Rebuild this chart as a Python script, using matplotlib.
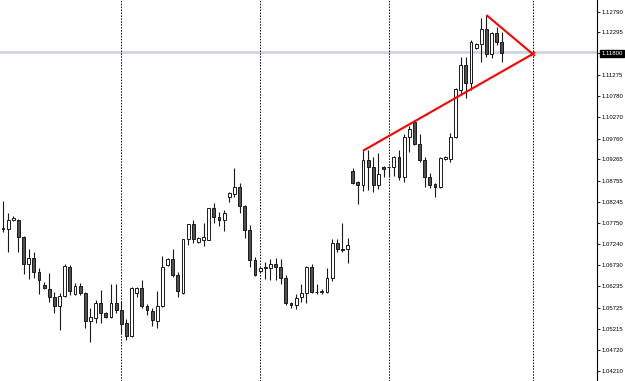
import matplotlib
matplotlib.use("Agg")
import matplotlib.pyplot as plt
import numpy as np

# ---- data (EURUSD-like candles) ----
opens = [1.0763, 1.0760, 1.0782, 1.0782, 1.0741, 1.0677, 1.0691, 1.0657, 1.0626, 1.0617,
         1.0598, 1.0576, 1.0600, 1.0669, 1.0605, 1.0624, 1.0607, 1.0540, 1.0548, 1.0583,
         1.0560, 1.0550, 1.0583, 1.0567, 1.0536, 1.0505, 1.0607, 1.0619, 1.0576, 1.0564,
         1.0540, 1.0576, 1.0674, 1.0689, 1.0650, 1.0607, 1.0736, 1.0772, 1.0729, 1.0734,
         1.0734, 1.0810, 1.0789, 1.0782, 1.0837, 1.0844, 1.0860, 1.0815, 1.0758, 1.0686,
         1.0660, 1.0669, 1.0667, 1.0677, 1.0669, 1.0643, 1.0583, 1.0579, 1.0598, 1.0607,
         1.0669, 1.0610, 1.0610, 1.0610, 1.0643, 1.0727, 1.0712, 1.0712, 1.0899, 1.0872,
         1.0865, 1.0925, 1.0908, 1.0865, 1.0908, 1.0908, 1.0908, 1.0932, 1.0884, 1.0980,
         1.1016, 1.0963, 1.0925, 1.0884, 1.0868, 1.0860, 1.0927, 1.0927, 1.0980, 1.1092,
         1.1152, 1.1109, 1.1192, 1.1202, 1.1238, 1.1178, 1.1228, 1.1207]
highs = [1.0827, 1.0798, 1.0791, 1.0784, 1.0743, 1.0712, 1.0705, 1.0667, 1.0634, 1.0655,
         1.0610, 1.0607, 1.0677, 1.0674, 1.0631, 1.0631, 1.0610, 1.0572, 1.0591, 1.0614,
         1.0562, 1.0629, 1.0629, 1.0588, 1.0545, 1.0622, 1.0622, 1.0638, 1.0581, 1.0572,
         1.0612, 1.0696, 1.0691, 1.0712, 1.0657, 1.0736, 1.0772, 1.0782, 1.0741, 1.0774,
         1.0810, 1.0822, 1.0801, 1.0806, 1.0849, 1.0906, 1.0870, 1.0817, 1.0770, 1.0693,
         1.0669, 1.0681, 1.0689, 1.0691, 1.0689, 1.0650, 1.0586, 1.0605, 1.0629, 1.0672,
         1.0677, 1.0629, 1.0617, 1.0667, 1.0736, 1.0736, 1.0774, 1.0739, 1.0906, 1.0875,
         1.0949, 1.0949, 1.0932, 1.0942, 1.0911, 1.0911, 1.0934, 1.0949, 1.0987, 1.1006,
         1.1020, 1.0987, 1.0932, 1.0894, 1.0870, 1.0932, 1.0934, 1.0989, 1.1097, 1.1171,
         1.1171, 1.1211, 1.1204, 1.1264, 1.1271, 1.1231, 1.1243, 1.1231]
lows = [1.0753, 1.0705, 1.0779, 1.0705, 1.0653, 1.0641, 1.0643, 1.0605, 1.0617, 1.0586,
        1.0560, 1.0519, 1.0598, 1.0603, 1.0603, 1.0603, 1.0524, 1.0490, 1.0536, 1.0536,
        1.0548, 1.0548, 1.0560, 1.0512, 1.0495, 1.0502, 1.0598, 1.0572, 1.0555, 1.0529,
        1.0524, 1.0574, 1.0672, 1.0646, 1.0598, 1.0605, 1.0722, 1.0727, 1.0727, 1.0720,
        1.0734, 1.0774, 1.0767, 1.0755, 1.0825, 1.0837, 1.0798, 1.0739, 1.0669, 1.0648,
        1.0657, 1.0641, 1.0638, 1.0638, 1.0629, 1.0579, 1.0572, 1.0569, 1.0586, 1.0583,
        1.0607, 1.0605, 1.0605, 1.0607, 1.0636, 1.0705, 1.0705, 1.0679, 1.0868, 1.0820,
        1.0851, 1.0853, 1.0849, 1.0856, 1.0884, 1.0884, 1.0887, 1.0877, 1.0872, 1.0944,
        1.0961, 1.0920, 1.0860, 1.0858, 1.0837, 1.0858, 1.0925, 1.0920, 1.0977, 1.1080,
        1.1073, 1.1092, 1.1190, 1.1159, 1.1171, 1.1168, 1.1200, 1.1159]
closes = [1.0760, 1.0782, 1.0786, 1.0741, 1.0677, 1.0691, 1.0657, 1.0638, 1.0619, 1.0598,
          1.0576, 1.0600, 1.0672, 1.0612, 1.0624, 1.0607, 1.0540, 1.0550, 1.0583, 1.0560,
          1.0550, 1.0583, 1.0567, 1.0533, 1.0505, 1.0619, 1.0619, 1.0576, 1.0567, 1.0543,
          1.0576, 1.0669, 1.0689, 1.0650, 1.0612, 1.0736, 1.0772, 1.0736, 1.0739, 1.0741,
          1.0810, 1.0789, 1.0782, 1.0798, 1.0846, 1.0860, 1.0815, 1.0758, 1.0686, 1.0650,
          1.0667, 1.0668, 1.0677, 1.0669, 1.0643, 1.0583, 1.0579, 1.0595, 1.0607, 1.0669,
          1.0610, 1.0609, 1.0612, 1.0643, 1.0727, 1.0712, 1.0711, 1.0722, 1.0870, 1.0865,
          1.0925, 1.0908, 1.0865, 1.0891, 1.0903, 1.0909, 1.0932, 1.0884, 1.0980, 1.0999,
          1.0963, 1.0925, 1.0884, 1.0865, 1.0860, 1.0930, 1.0932, 1.0980, 1.1094, 1.1152,
          1.1109, 1.1207, 1.1202, 1.1238, 1.1178, 1.1228, 1.1207, 1.1180]

tick_prices = [1.12790, 1.12295, 1.11800, 1.11275, 1.10780, 1.10270, 1.09760, 1.09265,
               1.08755, 1.08245, 1.07750, 1.07240, 1.06730, 1.06235, 1.05725, 1.05215,
               1.04720, 1.04210]
tick_labels = ["%.5f" % p for p in tick_prices]
current_price = 1.11800
separator_bars = [23, 50, 75, 103]
# trend lines: (bar, price) endpoints
line_up = ([70, 103], [1.0947, 1.1178])
line_down = ([94, 103], [1.1271, 1.1178])

# ---- figure ----
W, H = 625, 381
fig = plt.figure(figsize=(W / 100, H / 100), dpi=100)
ax = fig.add_axes([0, 0, 597 / W, 1])
ax.set_xlim(-0.58, 115.5)
ax.set_ylim(1.0397, 1.1307)

for s in ["top", "left", "bottom"]:
    ax.spines[s].set_visible(False)
ax.spines["right"].set_color("black")
ax.spines["right"].set_linewidth(0.8)
ax.set_xticks([])
ax.yaxis.tick_right()
ax.set_yticks(tick_prices)
ax.set_yticklabels(tick_labels, fontsize=4.3, family="Liberation Sans")
ax.tick_params(axis="y", length=2, width=0.6, pad=1, colors="black")

# separators
for b in separator_bars:
    ax.axvline(b, color="black", lw=0.7, ls=(0, (1.5, 1.5)), zorder=1)

# current price line
ax.axhline(current_price + 0.0003, color="#c8d0e0", lw=1.8, zorder=0.5)

# candles
x = np.arange(len(opens))
o = np.array(opens); h = np.array(highs); l = np.array(lows); c = np.array(closes)
ax.vlines(x, l, h, color="#1a1a1a", lw=0.8, zorder=2)
bull = c >= o
bottoms = np.minimum(o, c)
heights = np.maximum(np.abs(c - o), 0.00005)
ax.bar(x[bull], heights[bull], bottom=bottoms[bull], width=0.55,
       facecolor="white", edgecolor="#1a1a1a", linewidth=0.7, zorder=3)
ax.bar(x[~bull], heights[~bull], bottom=bottoms[~bull], width=0.55,
       facecolor="#505050", edgecolor="#1a1a1a", linewidth=0.7, zorder=3)

# trend lines
ax.plot(*line_up, color="#ff0000", lw=1.5, zorder=4, solid_capstyle="butt")
ax.plot(*line_down, color="#ff0000", lw=1.5, zorder=4, solid_capstyle="butt")
ax.plot([line_up[0][1]], [line_up[1][1]], marker="x", color="#ff0000",
        ms=3.5, mew=1.2, zorder=5)

# current price label
for lbl, p in zip(ax.get_yticklabels(), tick_prices):
    if abs(p - current_price) < 1e-9:
        lbl.set_color("white")
        lbl.set_bbox(dict(facecolor="black", edgecolor="black", pad=0.8))

fig.savefig("out.png", dpi=100)
